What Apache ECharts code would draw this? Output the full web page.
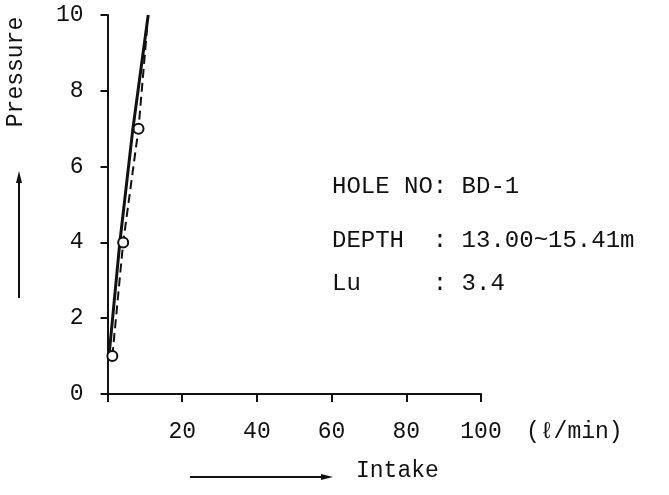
<!DOCTYPE html>
<html>
<head>
<meta charset="utf-8">
<script src="https://cdn.jsdelivr.net/npm/echarts@6/dist/echarts.min.js"></script>
<style>
  html, body { margin: 0; padding: 0; background: #fff; }
  #chart { width: 669px; height: 495px; }
</style>
</head>
<body>
<div id="chart"></div>
<script>
// pressure vs intake (l/min), two runs
const pressureSteps = [1, 4, 7, 10]
const intakeSolid = [0.4, 3.3, 6.8, 10.9]
const intakeDashed = [1.3, 4.2, 8.3, 10.9]
const xTicks = [0, 20, 40, 60, 80, 100]
const yTicks = [0, 2, 4, 6, 8, 10]
const infoLines = ['HOLE NO: BD-1', 'DEPTH  : 13.00~15.41m', 'Lu     : 3.4']

const font = 'Liberation Mono'
const ink = '#111'

const solidData = intakeSolid.map((x, i) => [x, pressureSteps[i]])
const dashedData = intakeDashed.map((x, i) => [x, pressureSteps[i]])

const myChart = echarts.init(document.getElementById('chart'), null, { renderer: 'canvas' })

myChart.setOption({
  animation: false,
  backgroundColor: '#fff',
  grid: { left: 107.5, right: 188, top: 15, bottom: 101 },
  xAxis: {
    type: 'value',
    min: xTicks[0],
    max: xTicks[xTicks.length - 1],
    interval: 20,
    splitLine: { show: false },
    axisLine: { lineStyle: { color: ink, width: 2 } },
    axisTick: { show: true, length: 8, lineStyle: { color: ink, width: 2 } },
    axisLabel: {
      margin: 26,
      color: ink,
      fontFamily: font,
      fontSize: 23,
      formatter: v => (v === 0 ? '' : String(v))
    }
  },
  yAxis: {
    type: 'value',
    min: yTicks[0],
    max: yTicks[yTicks.length - 1],
    interval: 2,
    splitLine: { show: false },
    axisLine: { lineStyle: { color: ink, width: 2 } },
    axisTick: { show: true, length: 7, lineStyle: { color: ink, width: 2 } },
    axisLabel: {
      margin: 24,
      color: ink,
      fontFamily: font,
      fontSize: 23
    }
  },
  series: [
    {
      name: 'solid',
      type: 'line',
      data: solidData,
      symbol: 'none',
      lineStyle: { color: ink, width: 3 },
      z: 2
    },
    {
      name: 'dashed',
      type: 'line',
      data: dashedData,
      symbol: (val, p) => (p.dataIndex < 3 ? 'circle' : 'none'),
      symbolSize: 10,
      itemStyle: { color: '#fff', borderColor: ink, borderWidth: 2 },
      lineStyle: { color: ink, width: 2, type: [9, 5] },
      z: 3
    }
  ],
  graphic: [
    // y axis title with upward arrow
    {
      type: 'text',
      x: 16, y: 72,
      rotation: Math.PI / 2,
      style: { text: 'Pressure', font: '23px ' + font, fill: ink, align: 'center', verticalAlign: 'middle' }
    },
    {
      type: 'line',
      shape: { x1: 19, y1: 298, x2: 19, y2: 180 },
      style: { stroke: ink, lineWidth: 2 }
    },
    {
      type: 'polygon',
      shape: { points: [[19, 171], [16, 183], [22, 183]] },
      style: { fill: ink }
    },
    // x axis unit and title with right arrow
    {
      type: 'text',
      x: 526, y: 432,
      style: { text: '(ℓ/min)', font: '23px ' + font, fill: ink, verticalAlign: 'middle' }
    },
    {
      type: 'text',
      x: 356, y: 471,
      style: { text: 'Intake', font: '23px ' + font, fill: ink, verticalAlign: 'middle' }
    },
    {
      type: 'line',
      shape: { x1: 190, y1: 477, x2: 324, y2: 477 },
      style: { stroke: ink, lineWidth: 2 }
    },
    {
      type: 'polygon',
      shape: { points: [[333, 477], [321, 474], [321, 480]] },
      style: { fill: ink }
    },
    // info block
    ...infoLines.map((t, i) => ({
      type: 'text',
      x: 332, y: [187, 241, 284][i],
      style: { text: t, font: '24px ' + font, fill: ink, verticalAlign: 'middle' }
    }))
  ]
})
</script>
</body>
</html>
